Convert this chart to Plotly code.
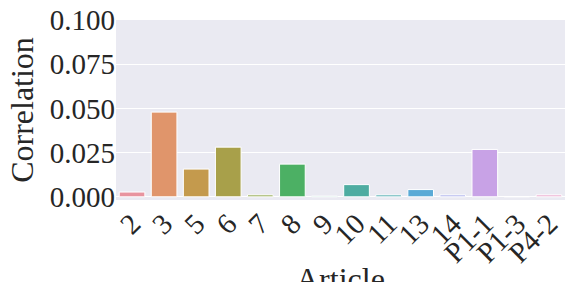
import plotly.graph_objects as go

articles = ["2", "3", "5", "6", "7", "8", "9", "10", "11", "13", "14", "P1-1", "P1-3", "P4-2"]
correlation = [0.0027, 0.0479, 0.0157, 0.0281, 0.0011, 0.0185, 0.0004, 0.0069,
               0.0011, 0.0041, 0.0011, 0.0268, 0.0001, 0.0011]
ytick_vals = [0, 0.025, 0.05, 0.075, 0.1]
ytick_text = ["0.000", "0.025", "0.050", "0.075", "0.100"]

colors = ["#e8949f", "#e0956b", "#c49a4d", "#a8a04a", "#8fa64a", "#4cb064", "#4fb39a",
          "#4eaca1", "#4fabb0", "#5aaad6", "#a9aeeb", "#c8a2e6", "#dfa0da", "#eaa6cc"]

fig = go.Figure(go.Bar(
    x=articles, y=correlation,
    marker=dict(color=colors, line=dict(color="white", width=1)),
    width=0.8,
))

font = "Liberation Serif, Times New Roman, serif"
fig.update_layout(
    width=573, height=282,
    margin=dict(l=116, r=8, t=20, b=82),
    paper_bgcolor="white", plot_bgcolor="#eaeaf2",
    font=dict(family=font, size=29, color="#262626"),
    showlegend=False,
)
fig.add_annotation(
    text="Article", xref="paper", yref="paper", x=0.5, y=-0.33,
    xanchor="center", yanchor="top", showarrow=False,
    font=dict(size=32, family=font, color="#262626"),
)
fig.update_xaxes(
    type="category", tickmode="array", tickvals=articles, ticktext=articles,
    tickangle=-45, showgrid=False, zeroline=False,
    ticks="", tickfont=dict(size=29), automargin=False,
)
fig.update_yaxes(
    range=[-0.0018, 0.1], tickvals=ytick_vals, ticktext=ytick_text,
    showgrid=True, gridcolor="white", gridwidth=1, zeroline=False, ticks="",
    title=dict(text="Correlation", font=dict(size=32), standoff=6),
    tickfont=dict(size=29), automargin=False,
)

fig.write_html("out.html", config={"displayModeBar": False},
               post_script="document.body.style.margin='0';")
